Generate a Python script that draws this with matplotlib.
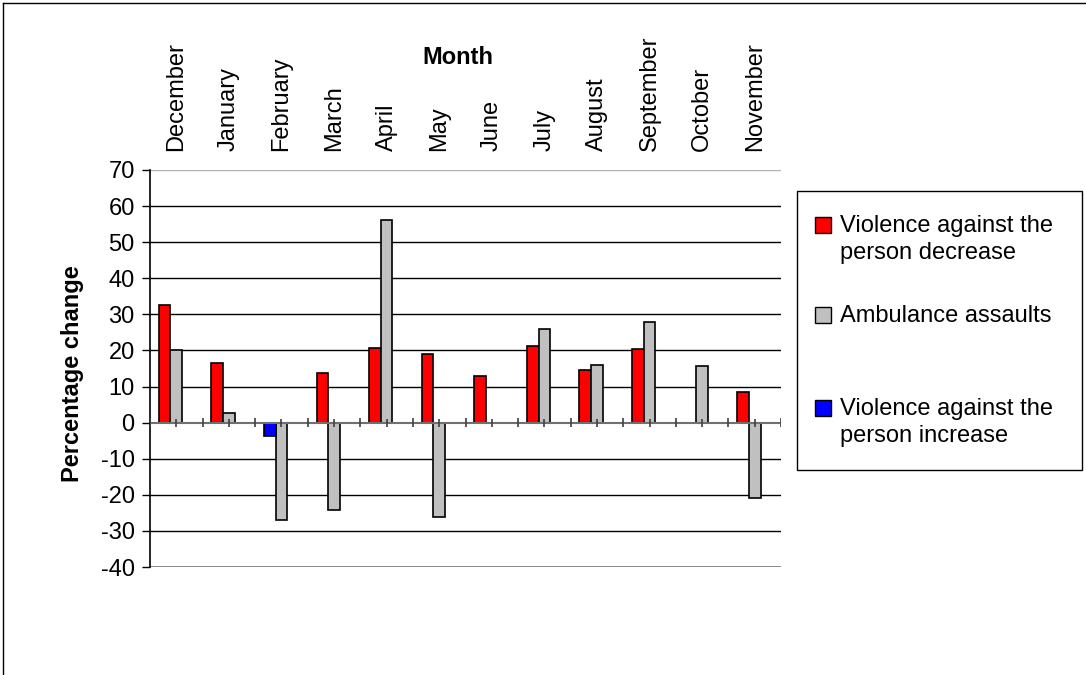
"""Monthly percentage change: violence against the person vs ambulance assaults."""

import matplotlib
matplotlib.use("Agg")
import matplotlib.pyplot as plt
import numpy as np
from matplotlib.lines import Line2D
from matplotlib.patches import Rectangle

months = ["December", "January", "February", "March", "April", "May",
          "June", "July", "August", "September", "October", "November"]
violence_decrease = [32.6, 16.5, np.nan, 13.8, 20.7, 19.0,
                     12.9, 21.2, 14.7, 20.3, np.nan, 8.6]
ambulance_assaults = [20.2, 2.8, -27.0, -24.2, 56.2, -26.1,
                      np.nan, 26.0, 16.0, 27.8, 15.6, -20.9]
violence_increase = [np.nan, np.nan, -3.7, np.nan, np.nan, np.nan,
                     np.nan, np.nan, np.nan, np.nan, np.nan, np.nan]
yticks = list(range(-40, 71, 10))

W, H = 1086, 675
plt.rcParams["font.family"] = ["Liberation Sans", "DejaVu Sans"]
fs = 17

fig = plt.figure(figsize=(W / 100, H / 100), dpi=100)


def fx(px):
    return px / W


def fy(py):
    return 1 - py / H


ax = fig.add_axes([fx(150), fy(567), fx(781) - fx(150), fy(170) - fy(567)])

x = np.arange(len(months))
bw = 0.222
ax.bar(x - bw, violence_decrease, bw, align="center", color="#ff0000",
       edgecolor="black", linewidth=1.2, zorder=3)
ax.bar(x, ambulance_assaults, bw, align="center", color="#c0c0c0",
       edgecolor="black", linewidth=1.2, zorder=3)
ax.bar(x - bw, violence_increase, bw, align="center", color="#0000ff",
       edgecolor="black", linewidth=1.2, zorder=3)

ax.set_xlim(-0.5, len(months) - 0.5)
ax.set_ylim(-40, 70)
ax.set_yticks(yticks)
ax.set_yticklabels([str(t) for t in yticks], fontsize=fs)
ax.tick_params(axis="y", direction="out", length=6, width=1, color="black", pad=5)

# month names along the top
ax.set_xticks(x)
ax.set_xticklabels(months, rotation=90, fontsize=fs)
ax.tick_params(axis="x", top=False, bottom=False, labeltop=True,
               labelbottom=False, pad=10)

for t in yticks[1:-1]:
    if t != 0:
        ax.axhline(t, color="black", linewidth=1, zorder=1)
ax.axhline(70, color="#b0b0b0", linewidth=1, zorder=1)
ax.axhline(-40, color="#808080", linewidth=2, zorder=1)

# category axis at zero with ticks
ax.axhline(0, color="#707070", linewidth=1.5, zorder=4)
ax.vlines(np.arange(-0.5, len(months)), -1.3, 1.3, color="#404040", linewidth=1.2, zorder=4)
ax.vlines(x, -1.1, 1.1, color="#404040", linewidth=1.2, zorder=4)

for side in ["top", "right", "bottom"]:
    ax.spines[side].set_visible(False)
ax.spines["left"].set_color("black")
ax.spines["left"].set_linewidth(1.2)

fig.text(fx(458), fy(58), "Month", fontsize=fs, fontweight="bold",
         ha="center", va="center")
fig.text(fx(72), fy(374), "Percentage change", fontsize=fs, fontweight="bold",
         rotation=90, ha="center", va="center")

# legend box drawn by hand so handles align with the first text line
fig.patches.append(Rectangle((fx(797), fy(470)), fx(1082) - fx(797), fy(191) - fy(470),
                             transform=fig.transFigure, facecolor="white",
                             edgecolor="black", linewidth=1))
entries = [
    ("#ff0000", "Violence against the\nperson decrease", 225),
    ("#c0c0c0", "Ambulance assaults", 315),
    ("#0000ff", "Violence against the\nperson increase", 408),
]
for color, label, yc in entries:
    fig.patches.append(Rectangle((fx(815), fy(yc + 8)), fx(16), 16 / H,
                                 transform=fig.transFigure, facecolor=color,
                                 edgecolor="black", linewidth=1))
    fig.text(fx(840), fy(yc - 10), label, fontsize=fs, ha="left", va="top",
             linespacing=1.3)

# chart area border (left and top edges)
fig.add_artist(Line2D([fx(3), fx(3)], [fy(3), 0], transform=fig.transFigure,
                      color="black", linewidth=1))
fig.add_artist(Line2D([fx(3), 1], [fy(3), fy(3)], transform=fig.transFigure,
                      color="black", linewidth=1))

fig.savefig("out.png", dpi=100)
